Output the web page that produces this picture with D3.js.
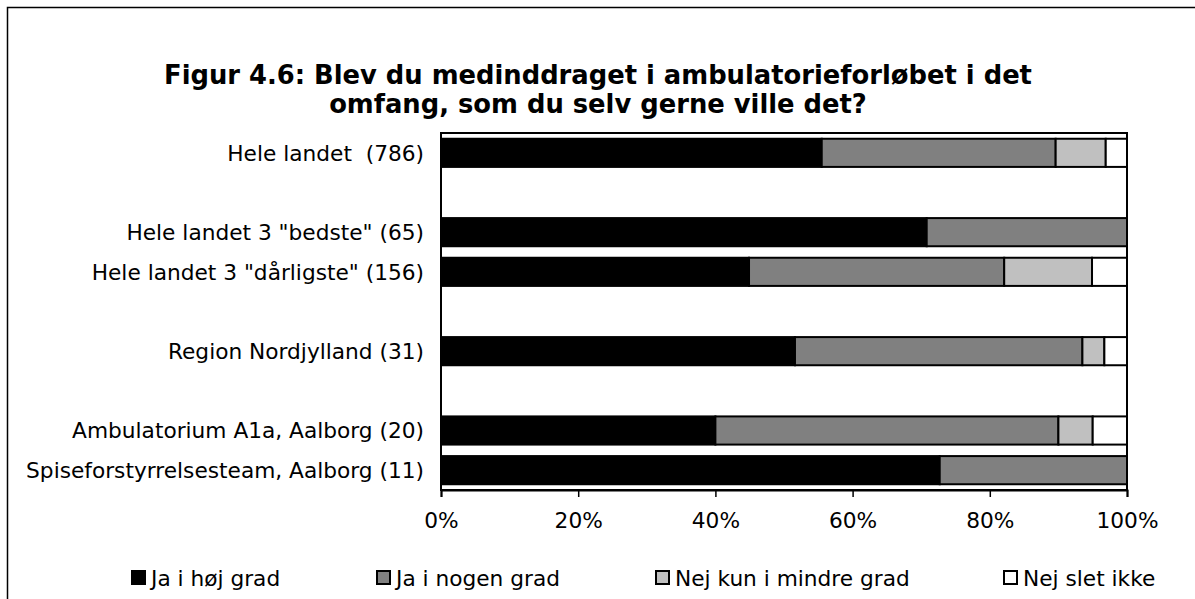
<!DOCTYPE html>
<html>
<head>
<meta charset="utf-8">
<script src="https://cdn.jsdelivr.net/npm/d3@7"></script>
<style>
  body { margin: 0; background: #fff; }
  svg { display: block; font-family: "DejaVu Sans", Verdana, sans-serif; }
  text { white-space: pre; }
</style>
</head>
<body>
<svg id="chart" width="1195" height="599"></svg>
<script>
// categories (blank rows are spacers in the original chart)
const categories = [
  'Hele landet  (786)',
  '',
  'Hele landet 3 "bedste" (65)',
  'Hele landet 3 "dårligste" (156)',
  '',
  'Region Nordjylland (31)',
  '',
  'Ambulatorium A1a, Aalborg (20)',
  'Spiseforstyrrelsesteam, Aalborg (11)'
];

// series values, percent
const jaHoejGrad   = [55.5, null, 70.8, 44.9, null, 51.6, null, 40.0, 72.7];
const jaNogenGrad  = [34.1, null, 29.2, 37.2, null, 41.9, null, 50.0, 27.3];
const nejMindre    = [7.3,  null, 0,    12.8, null, 3.2,  null, 5.0,  0];
const nejSletIkke  = [3.1,  null, 0,    5.1,  null, 3.3,  null, 5.0,  0];

const seriesNames = ['Ja i høj grad', 'Ja i nogen grad', 'Nej kun i mindre grad', 'Nej slet ikke'];
const seriesColors = ['#000000', '#808080', '#c0c0c0', '#ffffff'];
const xTicks = [0, 20, 40, 60, 80, 100];

const titleLines = [
  'Figur 4.6: Blev du medinddraget i ambulatorieforløbet i det',
  'omfang, som du selv gerne ville det?'
];

const svg = d3.select('#chart');
const fontSize = 21.7;

// outer frame
svg.append('rect')
  .attr('x', 7.5).attr('y', 7.5)
  .attr('width', 1200).attr('height', 600)
  .attr('fill', '#fff')
  .attr('stroke', '#000')
  .attr('stroke-width', 1.5);

// title
svg.append('text')
  .attr('text-anchor', 'middle')
  .attr('font-weight', 'bold')
  .attr('font-size', 25.8)
  .selectAll('tspan')
  .data(titleLines)
  .enter()
  .append('tspan')
  .attr('x', 598)
  .attr('y', (d, i) => 84 + i * 29)
  .text(d => d);

const margin = { top: 133, left: 441, right: 1127, bottom: 490 };

const x = d3.scaleLinear()
  .domain([0, 100])
  .range([margin.left, margin.right]);

const y = d3.scaleBand()
  .domain(categories.map((c, i) => i))
  .range([margin.top, margin.bottom])
  .paddingInner(0.29)
  .paddingOuter(0.145);

// rows table for the stack
const rows = categories.map((c, i) => ({
  idx: i,
  s0: jaHoejGrad[i], s1: jaNogenGrad[i], s2: nejMindre[i], s3: nejSletIkke[i]
})).filter(r => r.s0 !== null);

const stack = d3.stack().keys(['s0', 's1', 's2', 's3']);
const stacked = stack(rows);

// plot area frame
svg.append('rect')
  .attr('x', margin.left).attr('y', margin.top)
  .attr('width', margin.right - margin.left)
  .attr('height', margin.bottom - margin.top)
  .attr('fill', '#fff')
  .attr('stroke', '#000')
  .attr('stroke-width', 2);

// bars
const g = svg.append('g');
g.selectAll('.series')
  .data(stacked)
  .enter()
  .append('g')
  .attr('fill', (d, i) => seriesColors[i])
  .selectAll('rect')
  .data(d => d.filter(p => p[1] - p[0] > 0))
  .enter()
  .append('rect')
  .attr('x', d => x(d[0]))
  .attr('y', d => y(d.data.idx))
  .attr('width', d => x(d[1]) - x(d[0]))
  .attr('height', y.bandwidth())
  .attr('stroke', '#000')
  .attr('stroke-width', 2);

// x axis
const xAxis = d3.axisBottom(x)
  .tickValues(xTicks)
  .tickFormat(d => d + '%')
  .tickSize(7)
  .tickPadding(16);

const ax = svg.append('g')
  .attr('transform', `translate(0,${margin.bottom})`)
  .call(xAxis);
ax.select('.domain').attr('stroke', '#000').attr('stroke-width', 2);
ax.selectAll('.tick line').attr('stroke', '#000').attr('stroke-width', 1.5);
ax.selectAll('.tick text')
  .attr('font-family', '"DejaVu Sans", Verdana, sans-serif')
  .attr('font-size', fontSize)
  .attr('fill', '#000');

// category labels
svg.append('g')
  .selectAll('text')
  .data(categories.map((c, i) => ({ c, i })).filter(d => d.c !== ''))
  .enter()
  .append('text')
  .attr('x', 424)
  .attr('y', d => y(d.i) + y.bandwidth() / 2)
  .attr('dy', '0.36em')
  .attr('text-anchor', 'end')
  .attr('font-size', fontSize)
  .text(d => d.c);

// legend
const legendX = [131, 376, 655, 1003];
const legend = svg.append('g')
  .selectAll('g')
  .data(seriesNames)
  .enter()
  .append('g')
  .attr('transform', (d, i) => `translate(${legendX[i]},578)`);

legend.append('rect')
  .attr('x', 1).attr('y', -7)
  .attr('width', 13).attr('height', 13)
  .attr('fill', (d, i) => seriesColors[i])
  .attr('stroke', '#000')
  .attr('stroke-width', 2);

legend.append('text')
  .attr('x', 20)
  .attr('y', 0)
  .attr('dy', '0.36em')
  .attr('font-size', fontSize)
  .text(d => d);
</script>
</body>
</html>
